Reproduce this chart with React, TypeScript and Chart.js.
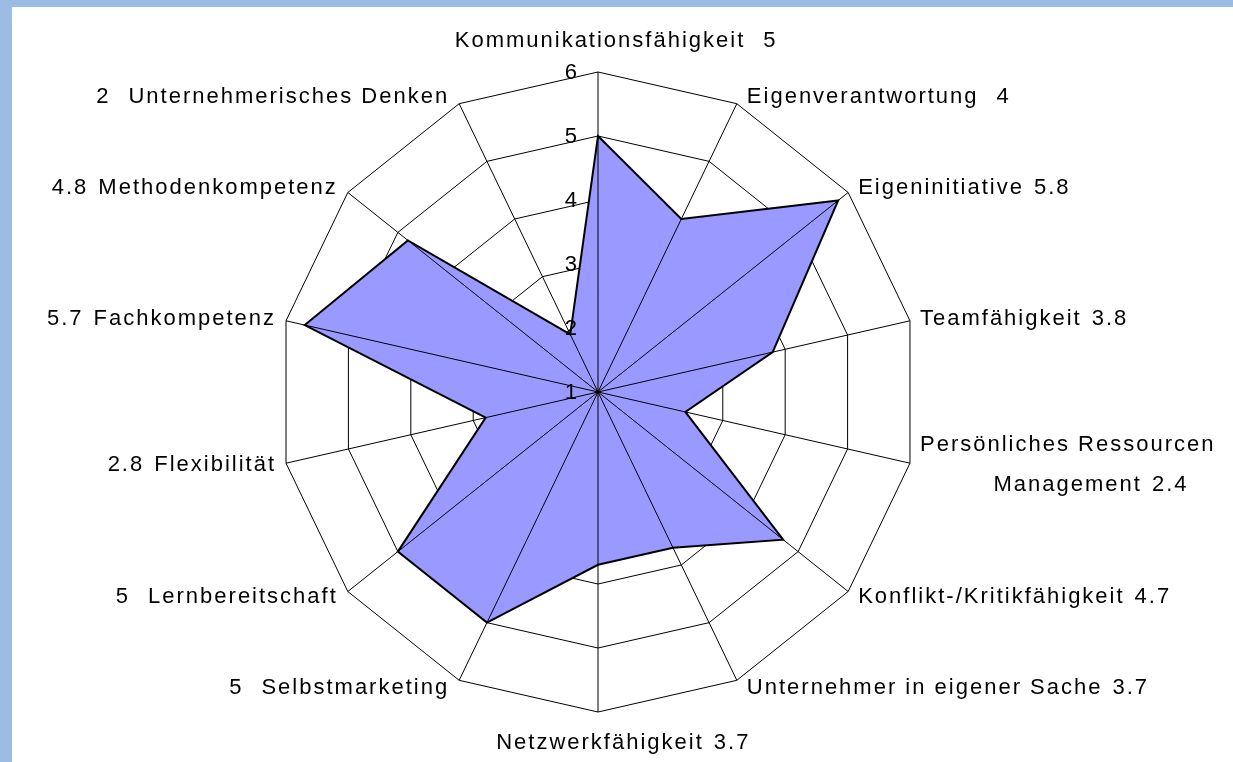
import React, { useEffect, useRef } from "react";
import { Chart, registerables } from "chart.js";

Chart.register(...registerables);

const categories: string[] = [
  "Kommunikationsfähigkeit",
  "Eigenverantwortung",
  "Eigeninitiative",
  "Teamfähigkeit",
  "Persönliches Ressourcen\nManagement",
  "Konflikt-/Kritikfähigkeit",
  "Unternehmer in eigener Sache",
  "Netzwerkfähigkeit",
  "Selbstmarketing",
  "Lernbereitschaft",
  "Flexibilität",
  "Fachkompetenz",
  "Methodenkompetenz",
  "Unternehmerisches Denken",
];

const values: number[] = [5, 4, 5.8, 3.8, 2.4, 4.7, 3.7, 3.7, 5, 5, 2.8, 5.7, 4.8, 2];

const tickValues: number[] = [1, 2, 3, 4, 5, 6];

const FONT = '22px "Liberation Sans", Arial, Helvetica, sans-serif';

const overlayPlugin = {
  id: "excelOverlay",
  afterDatasetsDraw(chart: any) {
    const scale = chart.scales.r;
    const ctx: CanvasRenderingContext2D = chart.ctx;
    const n = categories.length;
    const R = scale.drawingArea;
    ctx.save();
    // spokes over the fill
    ctx.strokeStyle = "#000000";
    ctx.lineWidth = 1;
    for (let i = 0; i < n; i++) {
      const p = scale.getPointPosition(i, R);
      ctx.beginPath();
      ctx.moveTo(scale.xCenter, scale.yCenter);
      ctx.lineTo(p.x, p.y);
      ctx.stroke();
    }
    // tick labels
    ctx.font = FONT;
    ctx.fillStyle = "#000000";
    ctx.textAlign = "right";
    ctx.textBaseline = "middle";
    tickValues.forEach((t) => {
      const p = scale.getPointPositionForValue(0, t);
      ctx.fillText(String(t), p.x - 21, p.y + 1);
    });
    // point labels with values
    (ctx as any).letterSpacing = "2px";
    const lineH = 40;
    for (let i = 0; i < n; i++) {
      const v = scale.getPointPosition(i, R);
      const ang = scale.getIndexAngle(i);
      const s = Math.sin(ang);
      const c = Math.cos(ang);
      const lines = categories[i].split("\n");
      const widths = lines.map((l) => ctx.measureText(l).width);
      const blockW = Math.max(...widths);
      const valText = String(values[i]);
      const gap = Number.isInteger(values[i]) ? 18 : 10;
      let cx: number;
      let cy: number;
      if (Math.abs(s) < 0.1) {
        cx = v.x + 2;
        cy = v.y - c * 31;
      } else if (s > 0) {
        cx = v.x + 10 + blockW / 2;
        cy = v.y - c * 8;
      } else {
        cx = v.x - 10 - blockW / 2;
        cy = v.y - c * 8;
      }
      const nl = lines.length;
      ctx.textBaseline = "middle";
      ctx.textAlign = "center";
      lines.forEach((l, k) => {
        ctx.fillText(l, cx, cy + (k - (nl - 1) / 2) * lineH);
      });
      if (s > -0.1) {
        const lastY = cy + ((nl - 1) / 2) * lineH;
        ctx.textAlign = "left";
        ctx.fillText(valText, cx + widths[nl - 1] / 2 + gap, lastY);
      } else {
        const firstY = cy - ((nl - 1) / 2) * lineH;
        ctx.textAlign = "right";
        ctx.fillText(valText, cx - widths[0] / 2 - gap, firstY);
      }
    }
    ctx.restore();
  },
};

export default function App() {
  const ref = useRef<HTMLCanvasElement | null>(null);
  useEffect(() => {
    document.body.style.margin = "0";
    const chart = new Chart(ref.current as HTMLCanvasElement, {
      type: "radar",
      data: {
        labels: categories.map((c) => c.replace("\n", " ")),
        datasets: [
          {
            data: values,
            backgroundColor: "#9999FF",
            borderColor: "#000000",
            borderWidth: 2,
            pointRadius: 0,
            fill: true,
          },
        ],
      },
      options: {
        animation: false,
        responsive: false,
        devicePixelRatio: 1,
        layout: { padding: { left: 278, right: 315, top: 72, bottom: 50 } },
        plugins: { legend: { display: false }, tooltip: { enabled: false } },
        scales: {
          r: {
            min: 1,
            max: 6,
            ticks: { stepSize: 1, display: false },
            grid: { circular: false, color: "#000000", lineWidth: 1 },
            angleLines: { display: false },
            pointLabels: { display: false },
          },
        },
      },
      plugins: [overlayPlugin],
    });
    return () => chart.destroy();
  }, []);
  return (
    <div style={{ position: "fixed", left: 0, top: 0, width: 1233, height: 762, background: "#9CBDE1", overflow: "hidden" }}>
      <div style={{ position: "absolute", left: 12, top: 7, right: 0, bottom: 0, background: "#FFFFFF" }} />
      <canvas ref={ref} width={1233} height={762} style={{ position: "absolute", left: 0, top: 0 }} />
    </div>
  );
}
